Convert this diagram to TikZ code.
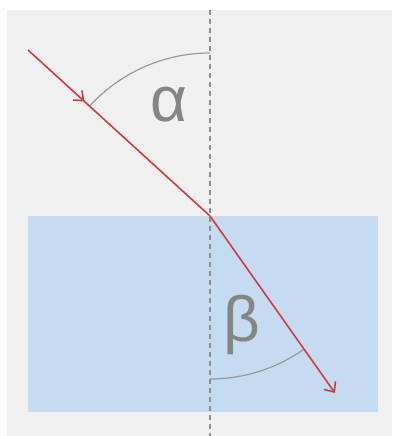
\documentclass[tikz,border=0pt]{standalone}
\usepackage{fontspec}
\setmainfont{Liberation Sans}
\usetikzlibrary{arrows.meta,decorations.markings}
\definecolor{obg}{HTML}{F0F0F0}
\definecolor{oglass}{HTML}{C4DBF1}
\definecolor{oray}{HTML}{D63A3E}
\definecolor{onorm}{HTML}{8E8E8E}

\begin{document}
\begin{tikzpicture}[
  x=1pt,y=1pt,
  ray/.style={draw=oray,line width=1.6pt},
  tipmark/.style={postaction={decorate},decoration={markings,
      mark=at position #1 with {\arrow{Straight Barb[length=8pt,width=13pt]}}}},
  normalline/.style={draw=onorm,line width=1.8pt,dash pattern=on 5pt off 4pt},
  anglearc/.style={draw=black!40,line width=1.2pt},
  lbl/.style={font=\fontsize{64}{64}\selectfont,text=black!48,inner sep=0pt}
]
\useasboundingbox (0,0) rectangle (392,436);
\fill[obg] (7,0) rectangle (392,426);
\fill[oglass] (28,24) rectangle (378,220);

\coordinate (top) at (210,426);
\coordinate (bottom) at (210,0);
\coordinate (hit) at (210,220);
\coordinate (src) at (28,386);
\coordinate (dst) at (335,43);

\draw[normalline] (top) -- (bottom);

\draw[anglearc] (hit) ++(90:163) arc[start angle=90,end angle=137.6,radius=163];
\draw[anglearc] (hit) ++(270:163) arc[start angle=270,end angle=305.2,radius=163];

\node[lbl] (alpha) at (169,331) {α};
\node[lbl] (beta) at (242,111) {β};

\draw[ray,tipmark=0.31] (src) -- (hit);
\draw[ray,-{Straight Barb[length=8pt,width=14pt]}] (hit) -- (dst);
\end{tikzpicture}
\end{document}
